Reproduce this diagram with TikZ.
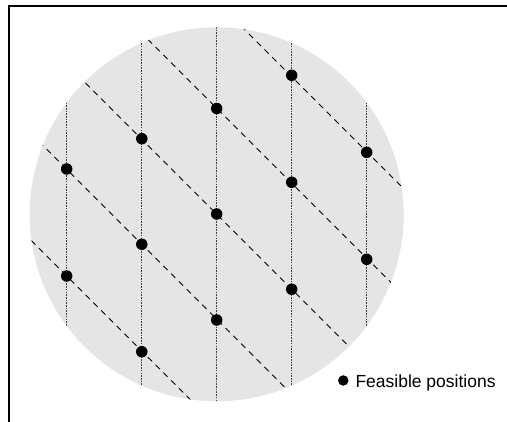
\documentclass[tikz,border=0pt]{standalone}
\usepackage{fontspec}
\setmainfont{Liberation Sans}
\begin{document}
\begin{tikzpicture}[x=1pt,y=-1pt,
  wafer/.style={fill=black!10,draw=none},
  track/.style={draw=black!75,line width=1.1pt,dash pattern=on 1.6pt off 1.1pt},
  diag/.style={draw=black,line width=0.9pt,dash pattern=on 6pt off 5pt},
  feasdot/.style={circle,fill=black,inner sep=0pt,minimum size=11.5pt},
  boxframe/.style={line width=2.2pt,line cap=rect}]
\useasboundingbox (0,0) rectangle (507,422);
\draw[boxframe] (9,422) -- (9,5.8) -- (507,5.8);
\coordinate (c) at (216.7,214.3);
\fill[wafer] (c) circle (187);
\begin{scope}
  \clip (c) circle (187);
  \foreach \x in {66.7,141.8,216.7,291.7,366.7}
    \draw[track] (\x,0) -- (\x,422);
  \foreach \k in {-215,-108.5,-2.5,102.5,209.3}
    \draw[diag] (0,\k) -- (450,450+\k);
\end{scope}
\node[feasdot] (p1) at (291.7,75.3) {};
\node[feasdot] (p2) at (216.7,108.5) {};
\node[feasdot] (p3) at (141.8,138.7) {};
\node[feasdot] (p4) at (366.7,152.3) {};
\node[feasdot] (p5) at (66.7,169) {};
\node[feasdot] (p6) at (291.7,182.3) {};
\node[feasdot] (p7) at (216.7,214) {};
\node[feasdot] (p8) at (141.8,244.3) {};
\node[feasdot] (p9) at (366.7,259.3) {};
\node[feasdot] (p10) at (66.7,276) {};
\node[feasdot] (p11) at (291.7,289.3) {};
\node[feasdot] (p12) at (216.7,320) {};
\node[feasdot] (p13) at (141.8,351.7) {};
\node[feasdot,minimum size=10.5pt] (leg) at (343.3,380.5) {};
\node[anchor=base west,inner sep=0pt,font=\fontsize{17.5}{20}\selectfont] (legt) at (355.3,387.7) {Feasible positions};
\end{tikzpicture}
\end{document}
